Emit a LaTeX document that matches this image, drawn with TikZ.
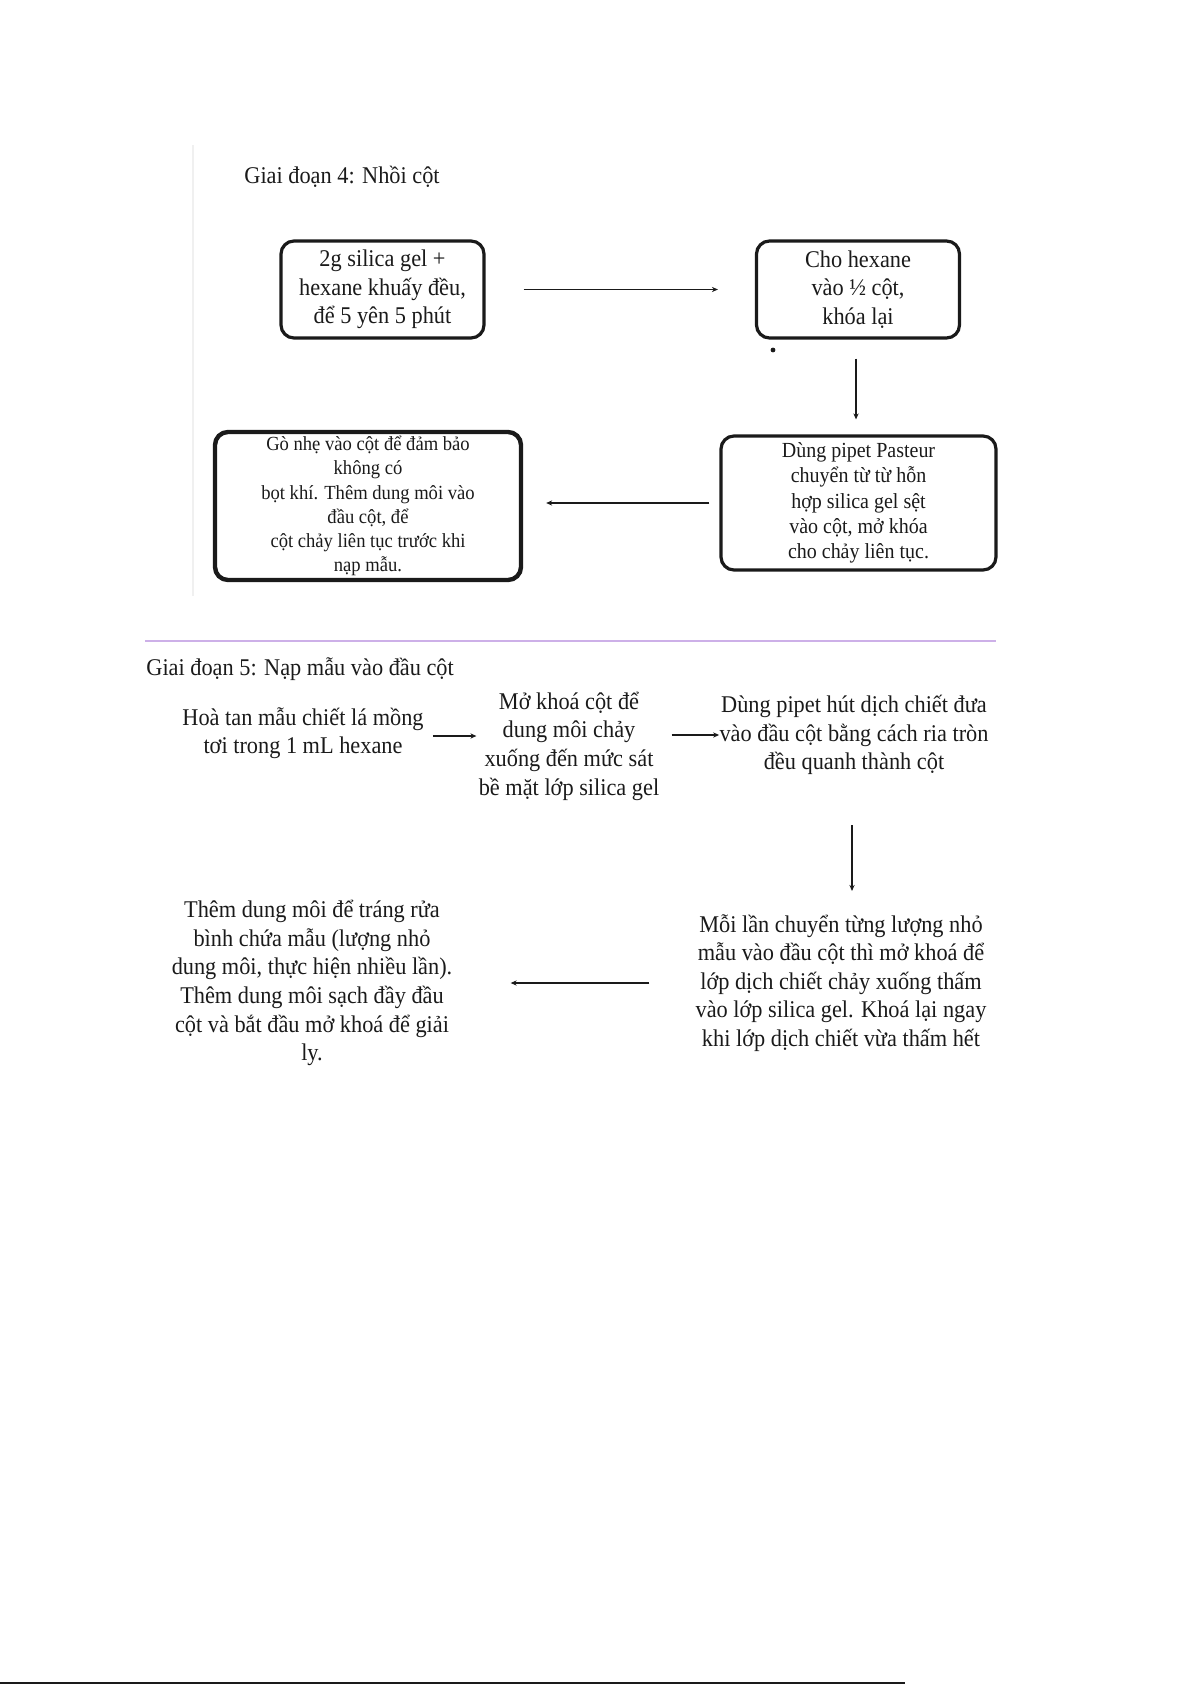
\documentclass[tikz,border=0pt]{standalone}
\usepackage{fontspec}
\setmainfont{Liberation Serif}[FakeStretch=0.93]
\usetikzlibrary{
  arrows.meta,
  calc,
  positioning
}
\definecolor{ink}{HTML}{1A1A1A}
\definecolor{rule}{HTML}{CDB0E8}
\definecolor{frame}{HTML}{F0F0F0}

\begin{document}
\begin{tikzpicture}[
  x=0.5pt, y=-0.5pt,
  font=\fontsize{12}{14.3}\selectfont,
  >=Stealth,
  module/.style={
    draw=ink,
    line width=1.6pt,
    rounded corners=6.5pt,
    minimum width=101.5pt,
    minimum height=48.5pt,
    inner sep=2pt,
    align=center,
    text=ink
  },
  smallmodule/.style={
    module,
    font=\fontsize{10.75}{12.7}\selectfont
  },
  note/.style={
    inner sep=0pt,
    align=center,
    text=ink
  },
  title/.style={
    inner sep=0pt,
    text=ink
  },
  flow/.style={
    -{Stealth[length=3pt,width=2.6pt]},
    line width=0.6pt,
    draw=ink
  },
  boldflow/.style={
    flow,
    line width=0.8pt
  }
]
\useasboundingbox (0,0) rectangle (1192,1684);

% Stage 4: packing the column
\draw[frame, line width=0.8pt] (193,145) -- (193,596);
\node[title, anchor=base west] (stagefour) at (244,184) {Giai đoạn 4: Nhồi cột};

\node[module] (mix) at (382.5,289.5) {2g silica gel +\\hexane khuấy đều,\\để 5 yên 5 phút};
\node[module] (fill) at (858,289.5) {Cho hexane\\vào ½ cột,\\khóa lại};
\node[smallmodule, minimum width=137.5pt, minimum height=67pt] (pour) at (858.5,503)
  {Dùng pipet Pasteur\\chuyển từ từ hỗn\\hợp silica gel sệt\\vào cột, mở khóa\\cho chảy liên tục.};
\node[smallmodule, line width=2.2pt, minimum width=153pt, minimum height=74pt,
  inner ysep=0pt, font=\fontsize{10}{12.1}\selectfont] (tap) at (368,506)
  {Gò nhẹ vào cột để đảm bảo\\không có\\bọt khí. Thêm dung môi vào\\đầu cột, để\\cột chảy liên tục trước khi\\nạp mẫu.};

\fill[ink] (773,350) circle[radius=1.2pt];

\draw[flow, shorten <=19pt, shorten >=18.5pt] (mix.east) -- (fill.west);
\draw[flow, shorten <=9.5pt, shorten >=7.5pt] ([xshift=-1pt]fill.south) -- ([xshift=-1pt]fill.south |- pour.north);
\draw[flow, shorten <=5pt, shorten >=11.5pt] (pour.west) -- (pour.west -| tap.east);

% Stage 5: loading the sample
\draw[rule, line width=0.6pt] (145,641) -- (996,641);
\node[title, anchor=base west] (stagefive) at (146,675) {Giai đoạn 5: Nạp mẫu vào đầu cột};

\node[note] (dissolve) at (303,733) {Hoà tan mẫu chiết lá mồng\\tơi trong 1 mL hexane};
\node[note] (drain) at (569,746) {Mở khoá cột để\\dung môi chảy\\xuống đến mức sát\\bề mặt lớp silica gel};
\node[note] (load) at (854,735) {Dùng pipet hút dịch chiết đưa\\vào đầu cột bằng cách ria tròn\\đều quanh thành cột};
\node[note] (soak) at (841,983) {Mỗi lần chuyển từng lượng nhỏ\\mẫu vào đầu cột thì mở khoá để\\lớp dịch chiết chảy xuống thấm\\vào lớp silica gel. Khoá lại ngay\\khi lớp dịch chiết vừa thấm hết};
\node[note] (rinse) at (312,983) {Thêm dung môi để tráng rửa\\bình chứa mẫu (lượng nhỏ\\dung môi, thực hiện nhiều lần).\\Thêm dung môi sạch đầy đầu\\cột và bắt đầu mở khoá để giải\\ly.};

\draw[boldflow, shorten <=4.5pt, shorten >=1pt] ([yshift=-1.5pt]dissolve.east) -- ([yshift=-1.5pt]dissolve.east -| drain.west);
\draw[boldflow, shorten <=6pt] ([yshift=5.5pt]drain.east) -- ([yshift=5.5pt]drain.east -| load.west);
\draw[flow, shorten <=25pt, shorten >=11.5pt] ([xshift=-1pt]load.south) -- ([xshift=-1pt]load.south |- soak.north);
\draw[boldflow, shorten <=23pt, shorten >=29pt] (soak.west) -- (soak.west -| rinse.east);

% page footer rule
\draw[ink, line width=0.8pt] (0,1683) -- (905,1683);
\end{tikzpicture}
\end{document}
